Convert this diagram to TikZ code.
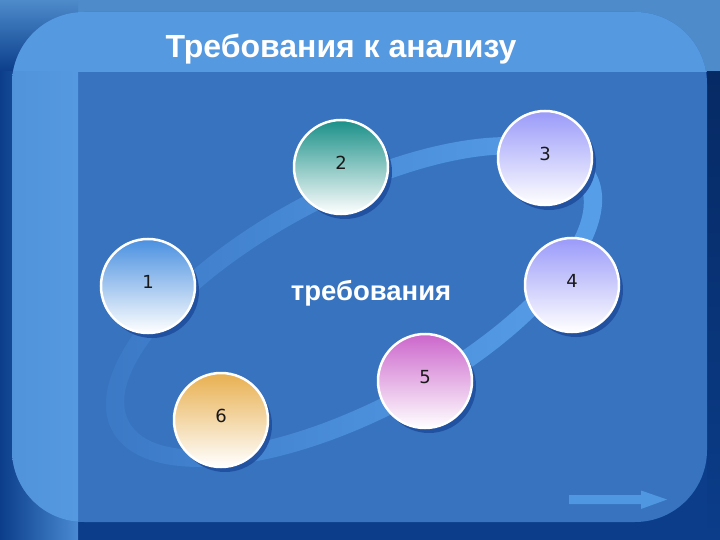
\documentclass[tikz,border=0pt]{standalone}
\usepackage{fontspec}
\setmainfont{Liberation Sans}
\newfontfamily\numfont{DejaVu Sans}
\usepackage{xcolor}
\usetikzlibrary{shadows}
\definecolor{navy}{HTML}{0B3D8A}
\definecolor{deepnavy}{HTML}{062A64}
\definecolor{stripblue}{HTML}{4D8BCB}
\definecolor{panelblue}{HTML}{3873BF}
\definecolor{bandblue}{HTML}{5599E0}
\definecolor{ringlight}{HTML}{58A0EA}
\definecolor{ringdark}{HTML}{3A77C4}
\definecolor{shadowblue}{HTML}{1F4F9E}
\definecolor{arrowblue}{HTML}{4F97E0}
\definecolor{topone}{HTML}{4A90E0}
\definecolor{toptwo}{HTML}{1A9088}
\definecolor{topthree}{HTML}{9A9AFA}
\definecolor{topfive}{HTML}{CC66CC}
\definecolor{topsix}{HTML}{E8B050}

\begin{document}
\begin{tikzpicture}[x=1pt, y=-1pt]
            \tikzstyle{ball} = [circle, minimum size=94pt, inner sep=0pt, draw=white, line width=2.5pt, bottom color=white, text=black!90, font=\numfont\fontsize{18}{18}\selectfont, text height=13pt, text depth=8pt, drop shadow={shadow xshift=4pt, shadow yshift=-5pt, fill=shadowblue, opacity=0.9}]
            \tikzstyle{heading} = [anchor=base, text=white, font=\bfseries]
            \useasboundingbox (0, 0) rectangle (720, 540);
            \fill[navy] (0, 0) rectangle (720, 540);
            \fill[stripblue] (0, 0) rectangle (720, 72);
            \shade[top color=stripblue, bottom color=navy] (0, 0) rectangle (78, 72);
            \shade[left color=navy, right color=bandblue!85!navy] (0, 72) rectangle (78, 540);
            \shade[top color=deepnavy, bottom color=navy] (707, 72) rectangle (720, 540);
            \fill[panelblue, rounded corners=72pt] (12, 12) rectangle (707, 522);
            \begin{scope}
                \clip[rounded corners=72pt] (12, 12) rectangle (707, 522);
                \fill[bandblue] (12, 12) rectangle (707, 72);
                \shade[left color=bandblue!85!panelblue, right color=bandblue] (12, 72) rectangle (78, 522);
            \end{scope}
            \fill[arrowblue] (569, 495) -- (641, 495) -- (641, 490.5) -- (667, 499.5) -- (641, 509) -- (641, 504) -- (569, 504) -- cycle;
            \begin{scope}[shift={(354, 302)}, rotate=28]
                \shade[even odd rule, left color=ringdark, right color=ringlight, middle color=ringlight!55!ringdark] (0, 0) ellipse [x radius=274pt, y radius=117pt] (0, 0) ellipse [x radius=255pt, y radius=98pt];
            \end{scope}
            \node[heading, font=\bfseries\fontsize{32}{32}\selectfont] (title) at (341, 58) {Требования к анализу};
            \node[heading, font=\bfseries\fontsize{27.5}{27.5}\selectfont] (req) at (371, 300) {требования};
            \node[ball, top color=topone] (c1) at (148, 286) {1};
            \node[ball, top color=toptwo] (c2) at (341, 167) {2};
            \node[ball, top color=topthree] (c3) at (545, 158) {3};
            \node[ball, top color=topthree] (c4) at (572, 285) {4};
            \node[ball, top color=topfive] (c5) at (425, 381) {5};
            \node[ball, top color=topsix] (c6) at (221, 420) {6};
        \end{tikzpicture}
\end{document}
